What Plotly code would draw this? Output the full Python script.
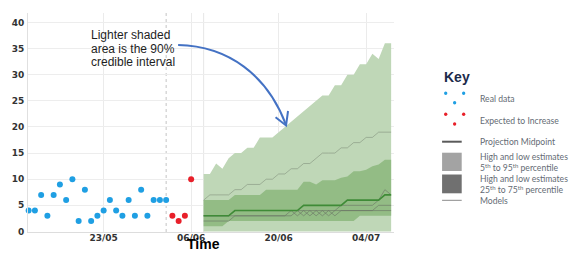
import plotly.graph_objects as go
import pandas as pd

# ---------------- data ----------------
obs_start = "2020-05-11"
real_values = [4, 4, 7, 3, 7, 9, 6, 10, 2, 8, 2, 3, 4, 6, 4, 3, 6, 3, 8, 3, 6, 6, 6]
expected_start = "2020-06-03"
expected_values = [3, 2, 3, 10]

proj_start = "2020-06-08"
proj_low5 = [0, 0, 0, 0, 0, 0, 0, 0, 0, 0, 0, 0, 0, 0, 0, 0, 0, 0, 0, 0, 0, 0, 0, 0, 0, 0, 0, 0, 0, 0, 0]
proj_high95 = [11, 11, 13, 12, 14, 15, 15, 16, 16, 18, 18, 18, 19, 20, 21, 22, 23, 24, 25, 26, 26,
               28, 28, 30, 30, 32, 32, 34, 33, 36, 36]
proj_low25 = [1, 1, 1, 1, 2, 2, 2, 2, 2, 2, 2, 2, 2, 2, 2, 2, 2, 2, 2, 2, 2, 2, 2, 2, 2, 3, 3, 3, 3, 3, 3]
proj_high75 = [6, 6, 6, 6, 6, 7, 7, 7, 7, 7, 8, 8, 8, 8, 8, 8, 9.5, 9.5, 9, 9.8, 9.8, 9.8, 10.3, 10.5,
               11.5, 11.5, 11.8, 12.5, 12.8, 13.7, 13.7]
proj_mid = [3, 3, 3, 3, 3, 4, 4, 4, 4, 4, 4, 4, 4, 4, 4, 4, 5, 5, 5, 5, 5, 5, 5, 6, 6, 6, 6, 6, 6, 7, 7]
model_a = [6, 7, 7, 7, 7, 8, 8, 9, 9, 9, 10, 10, 11, 11, 12, 12, 13, 13, 14, 15, 15, 15, 16, 16, 17,
           17, 18, 18, 19, 19, 19]
model_b = [3, 3, 3, 3, 3, 4, 4, 4, 4, 4, 4, 4, 4, 4, 4, 4, 4, 4, 4, 4, 4, 4, 4, 4, 4, 4, 4, 4, 4, 4, 4]
model_c = [2, 2, 2, 2, 2, 3, 3, 3, 3, 3, 3, 3, 3, 3, 4, 3, 4, 3, 4, 3, 4, 3, 4, 4, 4, 4, 4, 4, 5, 5, 5]
model_d = [3, 3, 3, 3, 3, 3, 3, 3, 3, 3, 3, 3, 3, 3, 3, 4, 3, 4, 3, 4, 3, 4, 5, 5, 5, 5, 5, 5, 6, 8, 7]

tick_dates = ["2020-05-23", "2020-06-06", "2020-06-20", "2020-07-04"]
tick_labels = ["23/05", "06/06", "20/06", "04/07"]
y_ticks = [0, 5, 10, 15, 20, 25, 30, 35, 40]

obs_dates = pd.date_range(obs_start, periods=len(real_values), freq="D")
exp_dates = pd.date_range(expected_start, periods=len(expected_values), freq="D")
proj_dates = pd.date_range(proj_start, periods=len(proj_mid), freq="D")

# ---------------- style ----------------
W, H = 585, 257
ML, MR, MT, MB = 21, 191, 13, 25
PW, PH = W - ML - MR, H - MT - MB

LIGHT = "#bfd7b7"
DARK = "#93bc85"
MID = "#3f8b37"
BLUE = "#1f9fe3"
RED = "#e8202a"


def px(x):
    return (x - ML) / PW


def py(y):
    return (H - MB - y) / PH


fig = go.Figure()

none_line = dict(width=0)
fig.add_trace(go.Scatter(x=proj_dates, y=proj_low5, mode="lines", line=none_line,
                         showlegend=False, hoverinfo="skip"))
fig.add_trace(go.Scatter(x=proj_dates, y=proj_high95, mode="lines", line=none_line,
                         fill="tonexty", fillcolor=LIGHT, showlegend=False, hoverinfo="skip"))
fig.add_trace(go.Scatter(x=proj_dates, y=proj_low25, mode="lines", line=none_line,
                         showlegend=False, hoverinfo="skip"))
fig.add_trace(go.Scatter(x=proj_dates, y=proj_high75, mode="lines", line=none_line,
                         fill="tonexty", fillcolor=DARK, showlegend=False, hoverinfo="skip"))

fig.add_trace(go.Scatter(x=proj_dates, y=model_a, mode="lines",
                         line=dict(color="rgba(125,140,120,0.55)", width=1), showlegend=False))
for m in (model_b, model_c, model_d):
    fig.add_trace(go.Scatter(x=proj_dates, y=m, mode="lines",
                             line=dict(color="rgba(105,115,100,0.6)", width=1), showlegend=False))

fig.add_trace(go.Scatter(x=proj_dates, y=proj_mid, mode="lines",
                         line=dict(color=MID, width=1.6), showlegend=False))

fig.add_trace(go.Scatter(x=obs_dates, y=real_values, mode="markers",
                         marker=dict(color=BLUE, size=6), showlegend=False, cliponaxis=False))
fig.add_trace(go.Scatter(x=exp_dates, y=expected_values, mode="markers",
                         marker=dict(color=RED, size=6), showlegend=False))

# vertical marker lines
fig.add_shape(type="line", xref="x", yref="paper", x0="2020-06-02", x1="2020-06-02", y0=0, y1=1,
              line=dict(color="#c4c4c4", width=1, dash="dot"), layer="below")
fig.add_shape(type="line", xref="x", yref="paper", x0="2020-06-08", x1="2020-06-08", y0=0, y1=1,
              line=dict(color="#e6e6e6", width=1), layer="below")

tickfont = dict(family="DejaVu Sans", size=9, color="#333333", weight="bold")
fig.update_xaxes(range=["2020-05-10 21:30", "2020-07-08 11:00"], tickvals=tick_dates,
                 ticktext=tick_labels, showgrid=True, gridcolor="#ebebeb", gridwidth=1,
                 ticks="", tickfont=tickfont, showline=True, linecolor="#dddddd",
                 zeroline=False, ticklabelstandoff=-3)
fig.update_yaxes(range=[-0.1, 41.8], tickvals=y_ticks, showgrid=True, gridcolor="#ededed",
                 ticks="", tickfont=tickfont, showline=True, linecolor="#e0e0e0",
                 zeroline=False, ticklabelstandoff=1)

annotations = []
# axis title
annotations.append(dict(text="<b>Time</b>", x=px(200), y=py(244), xref="paper", yref="paper",
                        showarrow=False, xanchor="center", yanchor="middle",
                        font=dict(family="Liberation Sans", size=14, color="#000000")))

# callout text
for txt, yy in (("Lighter shaded", 35), ("area is the 90%", 48.5), ("credible interval", 62)):
    annotations.append(dict(text=txt, x=px(83), y=py(yy), xref="paper", yref="paper",
                            showarrow=False, xanchor="left", yanchor="middle",
                            font=dict(family="Liberation Sans", size=12, color="#1e1e1e")))

# key
KEYTXT = "#646b74"
annotations.append(dict(text="<b>Key</b>", x=px(443), y=py(76.5), xref="paper", yref="paper",
                        showarrow=False, xanchor="left", yanchor="middle",
                        font=dict(family="Liberation Sans", size=14, color="#1c2a4a")))
key_items = [
    ("Real data", 99.5),
    ("Expected to Increase", 121.5),
    ("Projection Midpoint", 141.7),
    ("High and low estimates<br>5<sup>th</sup> to 95<sup>th</sup> percentile", 162.5),
    ("High and low estimates<br>25<sup>th</sup> to 75<sup>th</sup> percentile", 184),
    ("Models", 200.7),
]
for txt, yy in key_items:
    annotations.append(dict(text=txt, x=px(480), y=py(yy), xref="paper", yref="paper",
                            showarrow=False, xanchor="left", yanchor="middle", align="left",
                            font=dict(family="Lato", size=8.6, color=KEYTXT)))
fig.update_layout(annotations=annotations)

# key icons
def dot(cx, cy, color, r=1.7):
    fig.add_shape(type="circle", xref="paper", yref="paper",
                  x0=px(cx - r), x1=px(cx + r), y0=py(cy + r), y1=py(cy - r),
                  fillcolor=color, line=dict(width=0))


for (cx, cy) in ((446.7, 93.3), (465, 93.3), (455.8, 102.7)):
    dot(cx, cy, BLUE)
for (cx, cy) in ((446.7, 114.3), (465, 114.3), (455.8, 124)):
    dot(cx, cy, RED)
fig.add_shape(type="line", xref="paper", yref="paper", x0=px(443), x1=px(463), y0=py(141.7),
              y1=py(141.7), line=dict(color="#5a5a5a", width=2))
fig.add_shape(type="rect", xref="paper", yref="paper", x0=px(443), x1=px(463), y0=py(171),
              y1=py(152.7), fillcolor="#a3a3a3", line=dict(width=0))
fig.add_shape(type="rect", xref="paper", yref="paper", x0=px(443), x1=px(463), y0=py(193.3),
              y1=py(174.5), fillcolor="#707070", line=dict(width=0))
fig.add_shape(type="line", xref="paper", yref="paper", x0=px(443), x1=px(463), y0=py(200.3),
              y1=py(200.3), line=dict(color="#8a8a8a", width=1))

# curved callout arrow
ARROW = "#4472c4"
path = "M {},{} C {},{} {},{} {},{}".format(px(174), py(45), px(225), py(46), px(265), py(75),
                                          px(284), py(125))
fig.add_shape(type="path", xref="paper", yref="paper", path=path,
              line=dict(color=ARROW, width=2))
head = "M {},{} L {},{} L {},{}".format(px(273.3), py(117.3), px(284), py(125.5), px(286), py(111))
fig.add_shape(type="path", xref="paper", yref="paper", path=head,
              line=dict(color=ARROW, width=2))

fig.update_layout(width=W, height=H, margin=dict(l=ML, r=MR, t=MT, b=MB),
                  paper_bgcolor="white", plot_bgcolor="white", showlegend=False)

fig.write_html("out.html")
